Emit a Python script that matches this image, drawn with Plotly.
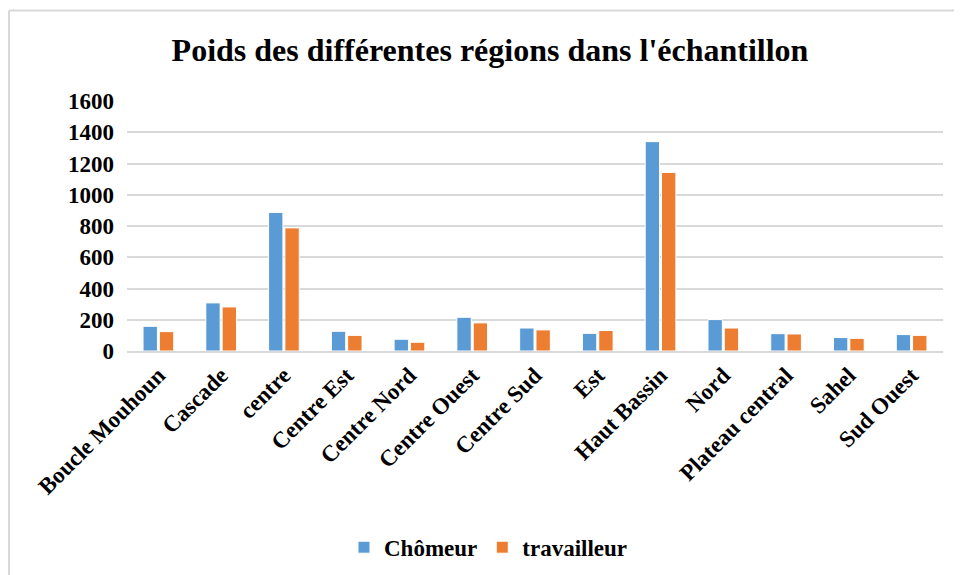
import plotly.graph_objects as go

regions = ["Boucle Mouhoun", "Cascade", "centre", "Centre Est", "Centre Nord", "Centre Ouest",
           "Centre Sud", "Est", "Haut Bassin", "Nord", "Plateau central", "Sahel", "Sud Ouest"]
chomeur = [158, 308, 887, 126, 75, 216, 147, 113, 1340, 201, 111, 86, 105]
travailleur = [124, 282, 788, 100, 56, 180, 135, 131, 1143, 147, 109, 81, 100]
y_ticks = [0, 200, 400, 600, 800, 1000, 1200, 1400, 1600]

FONT = "Liberation Serif, Times New Roman, serif"

W, H = 954, 567

fig = go.Figure()
fig.add_trace(go.Bar(x=regions, y=chomeur, name="Chômeur", marker_color="#5B9BD5",
                     marker_line=dict(color="white", width=1)))
fig.add_trace(go.Bar(x=regions, y=travailleur, name="travailleur", marker_color="#ED7D31",
                     marker_line=dict(color="white", width=1)))

fig.update_layout(
    width=W, height=H,
    margin=dict(l=119, r=19, t=93, b=224, autoexpand=False),
    paper_bgcolor="white", plot_bgcolor="white",
    font=dict(family=FONT, color="black"),
    title=dict(text="<b>Poids des différentes régions dans l'échantillon</b>",
               x=482/W, xanchor="center", xref="container", y=1 - 42/H, yref="container",
               yanchor="middle",
               font=dict(size=32, family=FONT, color="black")),
    bargap=0.48, bargroupgap=0.12,
    legend=dict(orientation="h", x=0.443, xanchor="center", y=-0.785, yanchor="middle",
                font=dict(size=23, family=FONT, weight="bold"), traceorder="normal",
                itemwidth=30),
    showlegend=True,
)
fig.update_yaxes(range=[0, 1600], tickvals=y_ticks, showgrid=True, gridcolor="#D9D9D9", gridwidth=1.5,
                 zeroline=False, showline=False, ticks="", ticklabelstandoff=12, automargin=False,
                 tickfont=dict(size=23, family=FONT, color="black", weight="bold"))
fig.update_xaxes(showline=True, linecolor="#D9D9D9", linewidth=1.5, ticks="", tickangle=-45,
                 automargin=False,
                 tickfont=dict(size=23, family=FONT, color="black", weight="bold"))

# chart frame (top and left edges visible in the reference)
fig.add_shape(type="line", xref="paper", yref="paper", x0=-0.1446, x1=1.2, y0=1.362, y1=1.362,
              line=dict(color="#D9D9D9", width=2), layer="below")
fig.add_shape(type="line", xref="paper", yref="paper", x0=-0.1446, x1=-0.1446, y0=1.362, y1=-1.2,
              line=dict(color="#D9D9D9", width=2), layer="below")

fig.write_html("out.html")
